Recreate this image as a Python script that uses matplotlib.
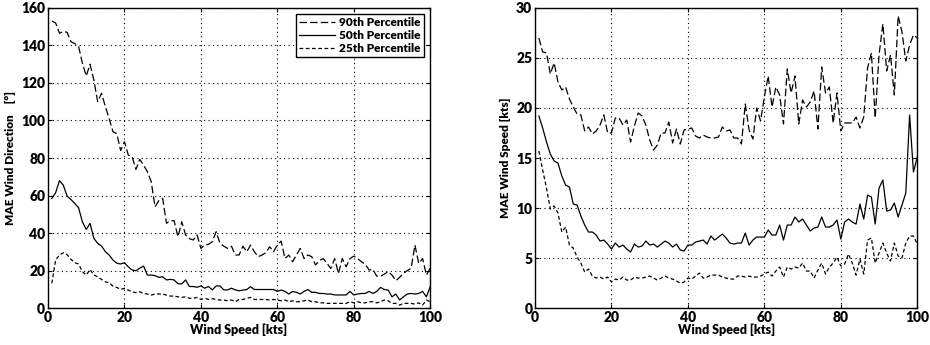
import numpy as np
import matplotlib
matplotlib.use('Agg')
import matplotlib.pyplot as plt

plt.rcParams['font.family'] = ['Lato', 'DejaVu Sans']
plt.rcParams['font.weight'] = 'heavy'

speed = np.arange(1, 101)

# wind direction error [deg]
dir_p90 = [153, 152, 146.5, 147.5, 147, 142, 141, 139.5, 130.6, 123.7,
           130, 121.6, 110, 114.5, 107.5, 101, 94, 93, 84, 88.7,
           81.6, 80.7, 73.9, 79.3, 76.3, 72.7, 67.4, 54, 57.3, 58.5,
           45.2, 46.6, 46.6, 38, 46, 39, 37, 36.3, 39, 31.8,
           33.6, 34, 35.4, 40.7, 34.5, 33, 31.8, 33, 28.3, 28.3,
           33, 30, 33.6, 30, 27.4, 28.3, 29.5, 32.7, 30, 33.6,
           35.7, 26.4, 28.3, 24.7, 28.3, 31.8, 26.4, 28.3, 27.4, 23,
           25.3, 26.4, 23.8, 21.1, 26.4, 18.5, 26.4, 22, 26.4, 27.7,
           26.4, 24.7, 23.4, 20.3, 20.6, 17, 17, 18.1, 19.4, 17.6,
           14.6, 16.4, 18.5, 20, 21.2, 33.6, 23.8, 26.4, 17.6, 21.2]
dir_p50 = [58.5, 61.5, 67.9, 65.6, 59.7, 57.9, 55.8, 53.5, 46, 41.9,
           45.2, 37.2, 34.5, 33.1, 30.1, 28.3, 25.6, 23.9, 23.5, 24.2,
           22, 20.3, 19.9, 21.2, 22.4, 17.6, 17.6, 17.3, 16.4, 16.7,
           15, 15.3, 15, 13, 12.9, 15, 11.5, 11.5, 11.1, 11.8,
           10.6, 11.5, 9.7, 11.8, 11.8, 9.7, 9.7, 10.6, 9.7, 9.2,
           9.6, 9.9, 11.4, 9.9, 9.9, 9.9, 9.9, 9.9, 9.9, 8.9,
           9.6, 8.9, 7.5, 8.9, 8.4, 7.5, 8.9, 9.9, 8.4, 8.4,
           7.8, 7.8, 7.5, 7.5, 7.0, 7.0, 7.0, 7.0, 8.9, 7.0,
           7.5, 7.8, 7.8, 8.9, 7.8, 8.9, 11.0, 9.9, 9.6, 6.0,
           7.5, 4.3, 6.0, 7.5, 7.8, 7.5, 7.8, 8.9, 6.0, 11.4]
dir_p25 = [13.2, 25.6, 28.3, 29.5, 28.5, 26, 24.2, 23.5, 19.4, 17.6,
           20.6, 17.6, 16.7, 15.3, 14, 13.5, 11.7, 11, 10, 10.5,
           9.6, 8.7, 8.2, 8.7, 7.8, 7.5, 6.9, 7.5, 7.5, 7.5,
           6.9, 6.4, 6.4, 6.0, 5.7, 6.0, 5.2, 5.2, 5.7, 4.6,
           5.2, 4.6, 5.0, 4.6, 4.3, 4.3, 3.9, 4.3, 3.4, 4.6,
           4.6, 5.2, 5.7, 4.6, 4.6, 4.6, 4.6, 4.3, 4.6, 4.3,
           3.9, 4.3, 3.4, 3.9, 3.4, 3.4, 3.9, 4.3, 3.4, 3.4,
           2.8, 2.8, 2.5, 2.5, 2.5, 2.5, 2.5, 2.5, 3.4, 2.8,
           3.4, 2.8, 2.8, 3.4, 3.4, 2.8, 3.4, 4.3, 3.9, 2.5,
           2.5, 1.6, 2.5, 2.5, 2.5, 2.1, 2.8, 1.6, 4.3, 3.4]

# wind speed error [kts]
spd_p90 = [27.0, 25.6, 25.5, 23.4, 24.5, 22.6, 21.8, 22.1, 20.9, 20.1,
           19.4, 19.3, 17.7, 18.1, 17.4, 17.7, 18.3, 19.3, 17.5, 17.5,
           19.0, 19.0, 18.3, 18.8, 16.6, 18.2, 19.5, 19.2, 18.3, 16.8,
           15.8, 16.3, 17.5, 17.5, 18.6, 16.5, 17.9, 16.4, 17.8, 17.9,
           18.0, 17.2, 17.0, 17.3, 17.1, 17.0, 17.0, 17.1, 18.1, 17.7,
           17.8, 17.0, 17.0, 16.4, 20.4, 17.8, 16.9, 20.0, 18.7, 21.1,
           23.2, 20.1, 22.1, 21.3, 18.4, 23.9, 21.5, 23.2, 18.4, 20.8,
           20.1, 20.6, 21.7, 17.9, 24.1, 21.5, 22.1, 18.5, 21.5, 17.7,
           18.5, 18.5, 18.5, 19.1, 18.0, 19.1, 24.0, 25.5, 19.0, 25.3,
           28.4, 23.7, 25.3, 21.3, 29.2, 27.6, 24.7, 26.3, 27.3, 27.0]
spd_p50 = [19.2, 18.0, 16.6, 15.4, 14.7, 14.5, 13.2, 12.3, 12.1, 10.4,
           10.3, 9.2, 8.3, 7.6, 7.6, 7.3, 6.7, 6.8, 6.4, 5.9,
           6.5, 6.1, 6.3, 5.9, 5.6, 6.4, 6.1, 6.2, 6.7, 6.3,
           6.4, 6.1, 6.4, 6.7, 6.5, 6.1, 6.4, 5.8, 5.7, 6.3,
           6.3, 6.6, 6.7, 6.8, 6.4, 7.2, 6.8, 7.1, 7.4, 7.0,
           6.5, 6.4, 6.5, 6.5, 7.5, 6.3, 6.8, 7.1, 7.1, 7.1,
           7.8, 7.3, 7.3, 8.3, 6.8, 8.3, 8.3, 9.1, 8.6, 8.9,
           8.3, 7.7, 8.0, 8.1, 9.1, 8.1, 8.1, 8.3, 8.8, 6.9,
           8.6, 8.9, 8.6, 8.4, 10.4, 8.9, 11.3, 11.1, 8.4, 12.0,
           12.8, 9.7, 9.8, 10.5, 9.1, 10.3, 11.5, 19.3, 13.6, 15.1]
spd_p25 = [15.7, 13.8, 12.0, 9.9, 10.2, 9.5, 7.6, 8.1, 6.3, 6.0,
           5.1, 4.5, 3.6, 3.9, 3.2, 3.0, 3.1, 2.9, 3.1, 2.6,
           2.9, 2.8, 3.1, 2.8, 2.8, 3.1, 3.0, 3.0, 3.1, 3.2,
           3.0, 2.8, 3.0, 3.2, 3.0, 2.9, 2.7, 2.5, 2.6, 3.0,
           2.9, 3.2, 3.5, 3.0, 3.1, 3.3, 3.3, 3.3, 3.1, 3.0,
           2.9, 2.9, 3.2, 3.2, 3.1, 3.2, 3.1, 3.1, 3.2, 3.4,
           3.6, 3.2, 3.7, 4.1, 3.1, 4.1, 3.9, 4.1, 4.0, 4.5,
           3.7, 3.7, 3.0, 3.8, 4.5, 3.4, 4.1, 4.5, 5.1, 4.2,
           4.4, 5.4, 4.5, 3.3, 4.9, 3.4, 6.8, 7.0, 4.5, 5.5,
           6.5, 5.5, 4.7, 6.5, 5.2, 5.0, 6.5, 7.2, 7.2, 6.4]

labels = ['90th Percentile', '50th Percentile', '25th Percentile']
styles = [(0, (6, 2.5)), '-', (0, (3, 2))]

fig = plt.figure(figsize=(9.3, 3.45), dpi=100)
ax1 = fig.add_axes([0.0516, 0.107, 0.411, 0.870])
ax2 = fig.add_axes([0.5753, 0.107, 0.411, 0.870])

for ax, series in ((ax1, (dir_p90, dir_p50, dir_p25)),
                   (ax2, (spd_p90, spd_p50, spd_p25))):
    for vals, ls, lab in zip(series, styles, labels):
        ax.plot(speed, vals, color='k', lw=0.9, linestyle=ls, label=lab)
    ax.set_xlim(0, 100)
    ax.set_xticks([0, 20, 40, 60, 80, 100])
    ax.grid(True, color='k', linestyle=(0, (1, 3)), lw=0.8)
    ax.tick_params(direction='in', top=True, right=True, length=3,
                   labelsize=10, pad=2, width=0.8)
    for sp in ax.spines.values():
        sp.set_linewidth(1.0)
    ax.set_xlabel('Wind Speed [kts]', fontsize=9, fontweight='heavy', labelpad=0)

ax1.set_ylim(0, 160)
ax1.set_yticks(range(0, 161, 20))
ax1.set_ylabel('MAE Wind Direction    [°]', fontsize=8.5, fontweight='heavy', labelpad=4)
leg = ax1.legend(loc='upper right', fontsize=8.5, handlelength=3.0,
                 handletextpad=0.4, borderpad=0.3, labelspacing=0.15,
                 fancybox=False, framealpha=1)
leg.get_frame().set_edgecolor('k')
leg.get_frame().set_linewidth(1.0)
for t in leg.get_texts():
    t.set_fontweight('heavy')

ax2.set_ylim(0, 30)
ax2.set_yticks(range(0, 31, 5))
ax2.set_ylabel('MAE Wind Speed [kts]', fontsize=8.5, fontweight='heavy', labelpad=4)

fig.savefig('out.png', dpi=100)
